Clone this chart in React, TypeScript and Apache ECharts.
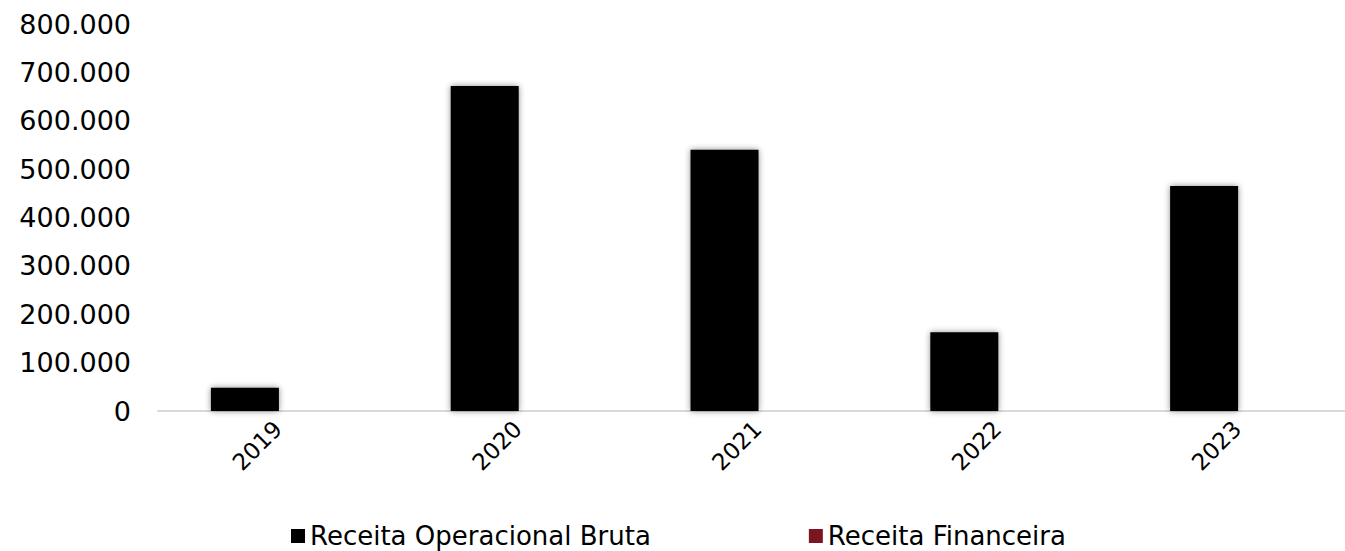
import React, { useEffect, useRef } from "react";
import * as echarts from "echarts";

const categories = ["2019", "2020", "2021", "2022", "2023"];
const receitaOperacional = [48000, 672000, 540000, 163000, 465000];
const receitaFinanceira = [0, 0, 0, 0, 0];
const seriesNames = ["Receita Operacional Bruta", "Receita Financeira"];
const yTicks = { min: 0, max: 800000, interval: 100000 };

const fmt = (v: number) => {
  if (v === 0) return "0";
  const s = Math.round(v).toString();
  return s.replace(/\B(?=(\d{3})+(?!\d))/g, ".");
};

export default function App() {
  const ref = useRef<HTMLDivElement>(null);
  useEffect(() => {
    document.body.style.margin = "0";
    const chart = echarts.init(ref.current!, null, { renderer: "svg" });
    chart.setOption({
      animation: false,
      backgroundColor: "#ffffff",
      grid: { left: 158, top: 24, right: 3, height: 387, containLabel: false },
      legend: {
        left: 286,
        top: 518,
        itemWidth: 14,
        itemHeight: 14,
        itemGap: 158,
        icon: "rect",
        textStyle: { fontFamily: "DejaVu Sans", fontSize: 26, color: "#000" },
        data: seriesNames,
      },
      xAxis: {
        type: "category",
        data: categories,
        axisLine: { lineStyle: { color: "#d9d9d9", width: 2 } },
        axisTick: { show: false },
        axisLabel: {
          rotate: 45,
          margin: 14,
          fontFamily: "DejaVu Sans",
          fontSize: 23,
          color: "#000",
        },
      },
      yAxis: {
        type: "value",
        min: yTicks.min,
        max: yTicks.max,
        interval: yTicks.interval,
        splitLine: { show: false },
        axisLine: { show: false },
        axisTick: { show: false },
        axisLabel: {
          margin: 27,
          fontFamily: "DejaVu Sans",
          fontSize: 27,
          color: "#000",
          formatter: (v: number) => fmt(v),
        },
      },
      series: [
        {
          name: seriesNames[0],
          type: "bar",
          data: receitaOperacional,
          barWidth: 68,
          barGap: "-3%",
          itemStyle: {
            color: "#000000",
            shadowColor: "rgba(0,0,0,0.45)",
            shadowBlur: 6,
          },
        },
        {
          name: seriesNames[1],
          type: "bar",
          data: receitaFinanceira,
          barWidth: 68,
          itemStyle: { color: "#7b1520" },
        },
      ],
    });
    return () => chart.dispose();
  }, []);
  return (
    <div style={{ width: 1345, height: 551, overflow: "hidden", position: "relative" }}>
      <div ref={ref} style={{ width: 1360, height: 551 }} />
    </div>
  );
}
